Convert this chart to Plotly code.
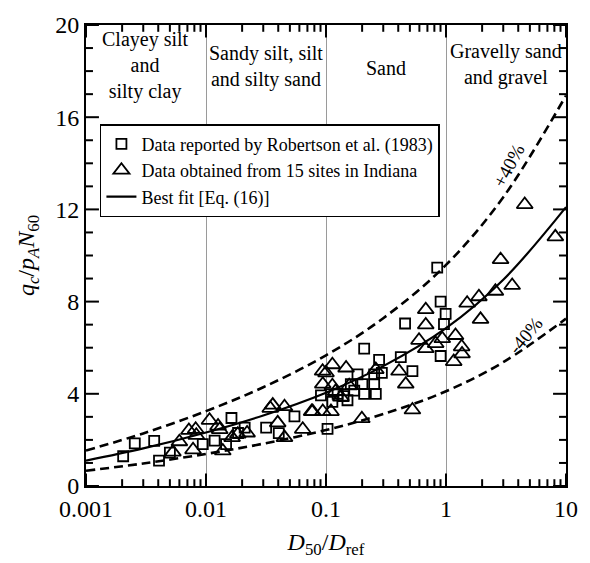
import math
import plotly.graph_objects as go

# Best-fit relation [Eq. (16)] sampled along D50/Dref
fit_x = [0.001, 0.003, 0.01, 0.03, 0.1, 0.3, 1, 3, 10]
fit_y = [1.10, 1.63, 2.32, 3.06, 4.05, 5.20, 6.85, 8.95, 12.10]
band_plus = 1.40   # +40%
band_minus = 0.60  # -40%

# Data reported by Robertson et al. (1983)
robertson_x = [0.00204, 0.00255, 0.0037, 0.00406, 0.0050, 0.0094, 0.0118, 0.0163,
               0.0147, 0.021, 0.0185, 0.0317, 0.0404, 0.0546, 0.0908, 0.103, 0.113,
               0.151, 0.161, 0.172, 0.183, 0.201, 0.208, 0.208, 0.252, 0.252, 0.26,
               0.277, 0.292, 0.42, 0.456, 0.525, 0.845, 0.902, 0.993, 0.962, 0.902,
               0.125, 0.14]
robertson_y = [1.29, 1.85, 1.96, 1.10, 1.45, 1.82, 1.97, 2.95,
               1.82, 2.53, 2.30, 2.53, 2.29, 3.02, 3.93, 2.48, 3.65,
               3.72, 4.42, 4.14, 4.84, 4.42, 4.00, 5.96, 4.84, 4.42, 4.00,
               5.47, 4.91, 5.59, 7.05, 4.98, 9.47, 8.00, 7.47, 7.02, 5.64,
               4.00, 3.90]

# Data obtained from 15 sites in Indiana
indiana_x = [0.0053, 0.0060, 0.0078, 0.0072, 0.0082, 0.0107, 0.0083, 0.0126, 0.0130,
             0.0138, 0.0184, 0.0165, 0.022, 0.0343, 0.0451, 0.0396, 0.0451, 0.064,
             0.0759, 0.0774, 0.094, 0.110, 0.0937, 0.094, 0.100, 0.113, 0.113, 0.133,
             0.147, 0.156, 0.199, 0.26, 0.406, 0.462, 0.525, 0.596, 0.678, 0.678,
             0.678, 0.82, 0.931, 1.16, 1.20, 1.35, 1.36, 1.50, 1.88, 1.94, 2.58,
             2.85, 3.56, 4.53, 8.15, 0.12, 0.036]
indiana_y = [1.47, 1.92, 1.57, 2.41, 2.46, 2.85, 2.20, 2.60, 2.45,
             1.52, 2.25, 2.10, 2.30, 3.37, 3.44, 2.74, 2.10, 2.46,
             3.23, 3.23, 3.23, 3.23, 4.98, 4.42, 4.91, 5.26, 4.35, 3.86,
             5.12, 4.35, 2.92, 5.05, 4.98, 4.42, 3.30, 6.32, 7.65, 6.99,
             5.96, 6.18, 6.39, 5.40, 6.53, 6.04, 5.73, 7.93, 8.21, 7.23, 8.45,
             9.82, 8.70, 12.21, 10.81, 4.10, 3.51]

x_ticks = [0.001, 0.01, 0.1, 1, 10]
x_tick_text = ["0.001", "0.01", "0.1", "1", "10"]
x_minor_ticks = [m * 10.0 ** e for e in range(-3, 1) for m in range(2, 10)]
y_ticks = [0, 4, 8, 12, 16, 20]
y_minor_ticks = [v for v in range(1, 20) if v % 4]

regions = [
    ("Clayey silt<br>and<br>silty clay", 0.00316, 18.23),
    ("Sandy silt, silt<br>and silty sand", 0.0316, 18.18),
    ("Sand", 0.316, 18.15),
    ("Gravelly sand<br>and gravel", 3.16, 18.27),
]

SERIF = "Liberation Serif"
X_RANGE = [-3, 1]
Y_RANGE = [0, 20]
W, H = 590, 563
MARGIN = dict(l=86, r=22, t=15, b=73)
PLOT_W = W - MARGIN["l"] - MARGIN["r"]
PLOT_H = H - MARGIN["t"] - MARGIN["b"]
MAJOR_LEN, MINOR_LEN = 13, 7

fig = go.Figure()

dash = "9px,5px"
fig.add_trace(go.Scatter(x=fit_x, y=[v * band_plus for v in fit_y], mode="lines",
                         line=dict(color="black", width=2.6, dash=dash, shape="spline"),
                         showlegend=False, hoverinfo="skip"))
fig.add_trace(go.Scatter(x=fit_x, y=[v * band_minus for v in fit_y], mode="lines",
                         line=dict(color="black", width=2.6, dash=dash, shape="spline"),
                         showlegend=False, hoverinfo="skip"))
fig.add_trace(go.Scatter(x=robertson_x, y=robertson_y, mode="markers",
                         name="Data reported by Robertson et al. (1983)",
                         marker=dict(symbol="square-open", size=10, color="black",
                                     line=dict(width=1.8, color="black"))))
fig.add_trace(go.Scatter(x=indiana_x, y=indiana_y, mode="markers",
                         name="Data obtained from 15 sites in Indiana",
                         marker=dict(symbol="triangle-up-open", size=14, color="black",
                                     line=dict(width=1.8, color="black"))))
fig.add_trace(go.Scatter(x=fit_x, y=fit_y, mode="lines", name="Best fit [Eq. (16)]",
                         line=dict(color="black", width=2.2, shape="spline")))

annotations = []
for text, xv, yv in regions:
    annotations.append(dict(x=math.log10(xv), y=yv, xref="x", yref="y", text=text,
                            showarrow=False, font=dict(family=SERIF, size=20, color="black"),
                            align="center"))
annotations.append(dict(x=math.log10(3.34), y=13.9, xref="x", yref="y", text="+40%",
                        showarrow=False, textangle=-62,
                        font=dict(family=SERIF, size=19, color="black")))
annotations.append(dict(x=math.log10(4.59), y=6.53, xref="x", yref="y", text="-40%",
                        showarrow=False, textangle=-50,
                        font=dict(family=SERIF, size=19, color="black")))

# Inside tick marks on all four sides of the frame, placed from the tick lists
shapes = []
tick_line = dict(color="#000000", width=2)


def x_frac(v):
    return (math.log10(v) - X_RANGE[0]) / (X_RANGE[1] - X_RANGE[0])


def y_frac(v):
    return (v - Y_RANGE[0]) / (Y_RANGE[1] - Y_RANGE[0])


for vals, length in ((x_ticks, MAJOR_LEN), (x_minor_ticks, MINOR_LEN)):
    dy = length / PLOT_H
    for v in vals:
        f = x_frac(v)
        shapes.append(dict(type="line", xref="paper", yref="paper", layer="above",
                           x0=f, x1=f, y0=0, y1=dy, line=tick_line))
        shapes.append(dict(type="line", xref="paper", yref="paper", layer="above",
                           x0=f, x1=f, y0=1, y1=1 - dy, line=tick_line))

for vals, length in ((y_ticks, MAJOR_LEN), (y_minor_ticks, MINOR_LEN)):
    dx = length / PLOT_W
    for v in vals:
        f = y_frac(v)
        shapes.append(dict(type="line", xref="paper", yref="paper", layer="above",
                           x0=0, x1=dx, y0=f, y1=f, line=tick_line))
        shapes.append(dict(type="line", xref="paper", yref="paper", layer="above",
                           x0=1, x1=1 - dx, y0=f, y1=f, line=tick_line))

fig.update_layout(
    width=W, height=H,
    margin=MARGIN,
    paper_bgcolor="white", plot_bgcolor="white",
    font=dict(family=SERIF, size=24, color="black"),
    annotations=annotations,
    shapes=shapes,
    showlegend=True,
    legend=dict(x=0.029, y=0.785, xanchor="left", yanchor="top",
                bgcolor="white", bordercolor="black", borderwidth=1.5,
                font=dict(family=SERIF, size=18, color="black"),
                tracegroupgap=0, itemwidth=30),
    xaxis=dict(
        type="log", range=X_RANGE,
        tickmode="array", tickvals=x_ticks, ticktext=x_tick_text,
        ticks="", showline=True, linecolor="black", linewidth=2, mirror=True,
        showgrid=True, gridcolor="#9a9a9a", gridwidth=1.2,
        zeroline=False,
        title=dict(text="<i>D</i><sub>50</sub>/<i>D</i><sub>ref</sub>",
                   font=dict(family=SERIF, size=24), standoff=12),
        tickfont=dict(family=SERIF, size=24),
    ),
    yaxis=dict(
        range=Y_RANGE, tickmode="array", tickvals=y_ticks,
        ticks="", showline=True, linecolor="black", linewidth=2, mirror=True,
        showgrid=False, zeroline=False,
        title=dict(text="<i>q</i><sub><i>c</i></sub>/<i>p</i><sub><i>A</i></sub><i>N</i><sub>60</sub>",
                   font=dict(family=SERIF, size=24), standoff=14),
        tickfont=dict(family=SERIF, size=24),
    ),
)

fig.write_html("out.html")
